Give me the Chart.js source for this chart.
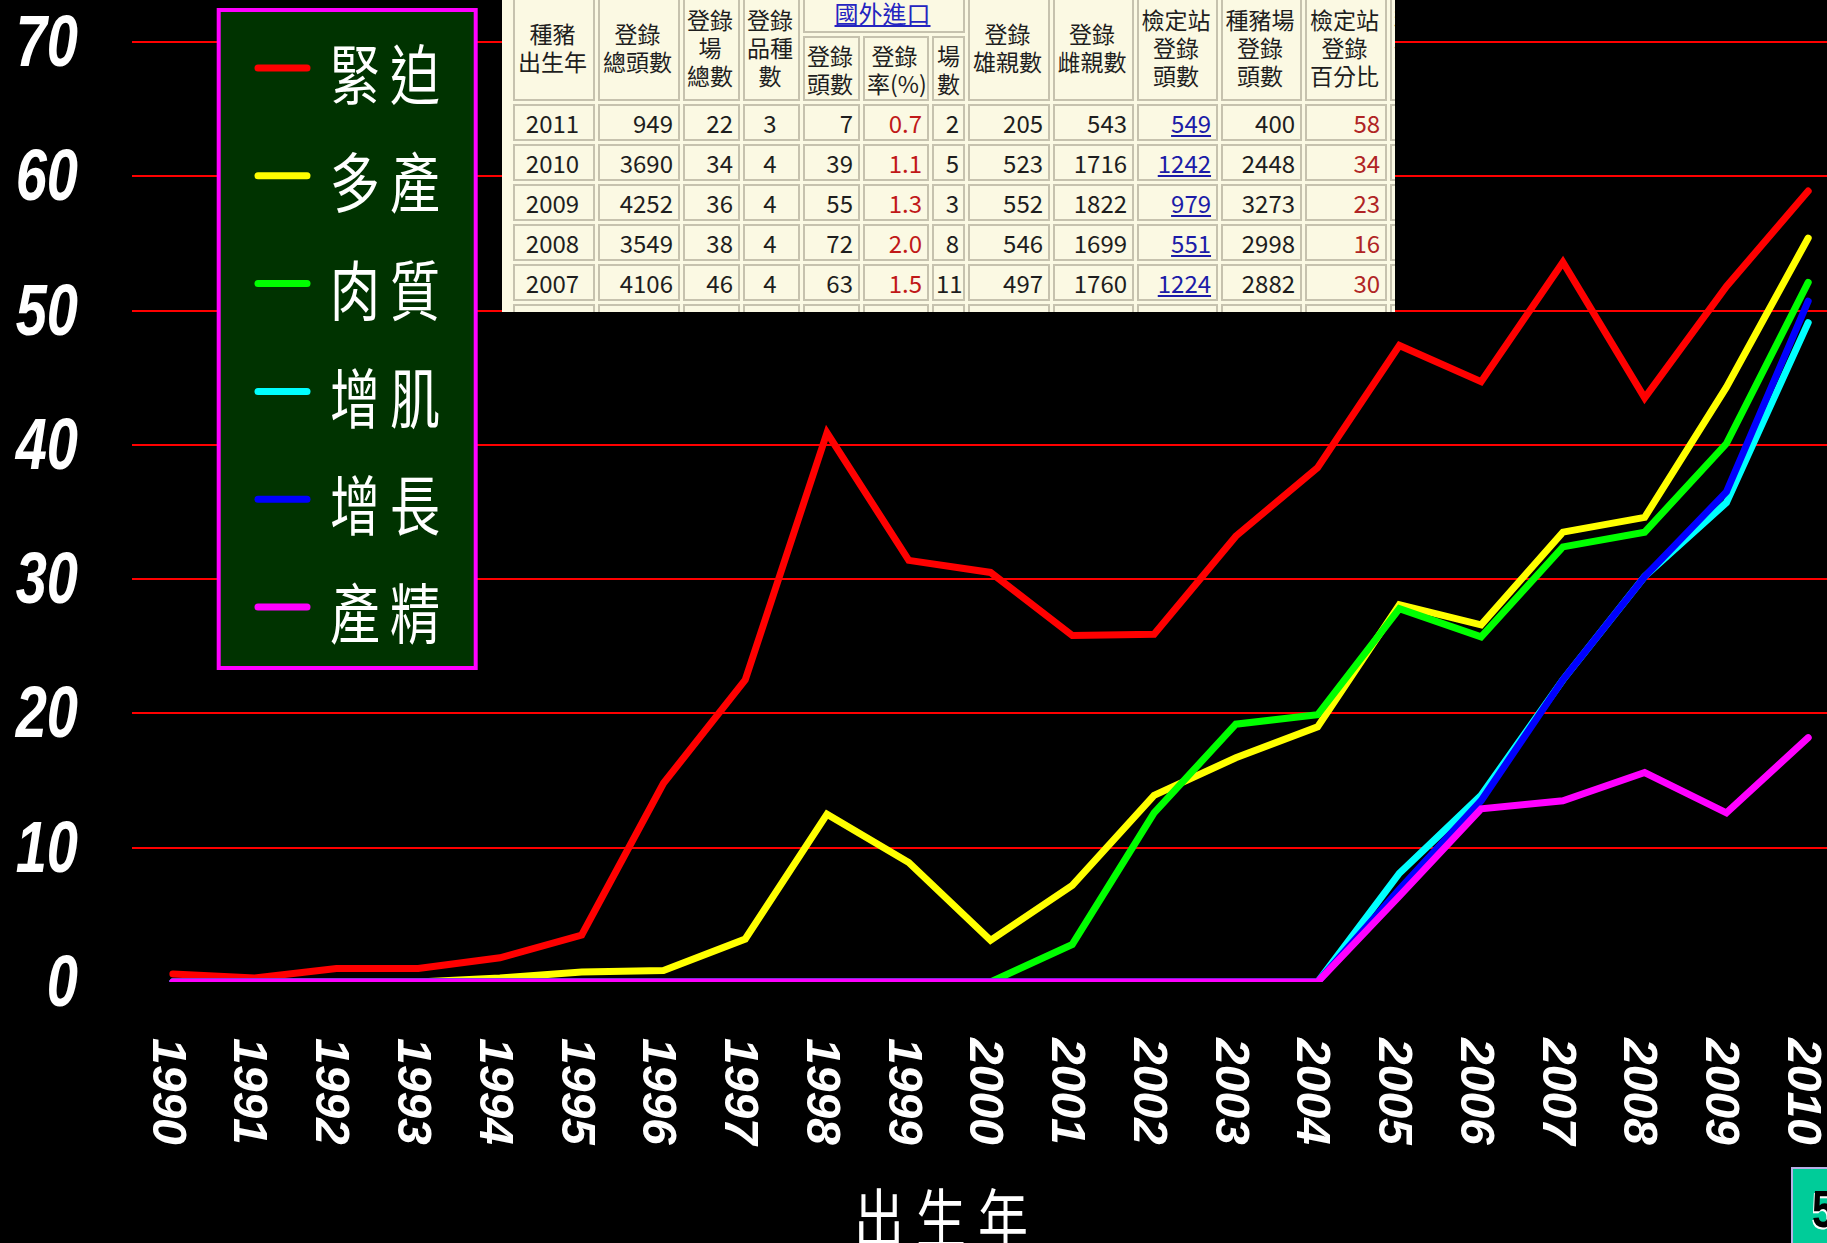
<!DOCTYPE html>
<html>
<head>
<meta charset="utf-8">
<script src="https://cdn.jsdelivr.net/npm/chart.js@4/dist/chart.umd.min.js"></script>
<style>
html,body{margin:0;padding:0;background:#000;overflow:hidden;}
#wrap{position:relative;width:1827px;height:1243px;background:#000;}
#c{position:absolute;left:0;top:0;}
#tbl{position:absolute;left:502px;top:0;width:893px;height:312px;overflow:hidden;background:#FBF9E3;z-index:2;}
#tbl table{position:absolute;left:8px;top:-11px;border-collapse:separate;border-spacing:3px;table-layout:fixed;
  font-family:"Noto Sans CJK TC","Noto Sans CJK SC",sans-serif;color:#1e1e1e;}
#tbl td{border:2px solid #C6C2AE;box-sizing:border-box;padding:0 5px 0 2px;font-size:23px;line-height:28px;
  text-align:center;overflow:hidden;white-space:nowrap;vertical-align:middle;}
#tbl tr.h1 td{height:41px;}
#tbl tr.h2 td{height:65px;}
#tbl tr.d td{height:37px;font-family:"Liberation Sans Narrow","Noto Sans CJK TC",sans-serif;font-size:24px;text-align:right;}
#tbl tr.d td.ctr{text-align:center;}
#tbl .red{color:#C01818;}
#tbl .red2{color:#B02424;}
#tbl .lnk{color:#1C1CA8;text-decoration:underline;}
#tbl .hl{color:#2424C0;text-decoration:underline;font-size:24px;}
</style>
</head>
<body>
<div id="wrap">
  <canvas id="c" width="1827" height="1243"></canvas>
  <div id="tbl"></div>
</div>
<script>
// ---------- chart data ----------
const years = [1990,1991,1992,1993,1994,1995,1996,1997,1998,1999,2000,2001,2002,2003,2004,2005,2006,2007,2008,2009,2010];
const yTicks = [0,10,20,30,40,50,60,70];
const seriesNames = ['緊迫','多產','肉質','增肌','增長','產精'];
const seriesColors = ['#FF0000','#FFFF00','#00FF00','#00FFFF','#0000FF','#FF00FF'];
const stressVals   = [0.6,0.3,1.0,1.0,1.8,3.5,14.8,22.5,40.9,31.4,30.5,25.8,25.9,33.2,38.3,47.4,44.7,53.6,43.5,51.8,58.9];
const prolificVals = [0,0,0,0,0.3,0.75,0.85,3.2,12.5,8.9,3.1,7.2,13.9,16.7,19.0,28.1,26.6,33.5,34.6,44.3,55.4];
const meatVals     = [0,0,0,0,0,0,0,0,0,0,0,2.8,12.6,19.2,19.9,27.8,25.7,32.4,33.5,40.1,52.1];
const muscleVals   = [0,0,0,0,0,0,0,0,0,0,0,0,0,0,0,8.1,13.9,22.5,30.2,35.7,49.1];
const growthVals   = [0,0,0,0,0,0,0,0,0,0,0,0,0,0,0,6.9,13.5,22.5,30.2,36.5,50.7];
const spermVals    = [0,0,0,0,0,0,0,0,0,0,0,0,0,0,0,6.4,12.9,13.5,15.6,12.6,18.2];
const xTitle = '出生年';
const pageNo = '5';

// ---------- table (inset screenshot) data ----------
const tblYears      = [2011,2010,2009,2008,2007];
const tblTotal      = [949,3690,4252,3549,4106];
const tblFarms      = [22,34,36,38,46];
const tblBreeds     = [3,4,4,4,4];
const tblImpHead    = [7,39,55,72,63];
const tblImpRate    = ['0.7','1.1','1.3','2.0','1.5'];
const tblImpFarms   = [2,5,3,8,11];
const tblSires      = [205,523,552,546,497];
const tblDams       = [543,1716,1822,1699,1760];
const tblStation    = [549,1242,979,551,1224];
const tblFarmReg    = [400,2448,3273,2998,2882];
const tblStationPct = [58,34,23,16,30];
const colWidths = [82,82,57,57,57,66,33,82,81,81,81,82,80];

// build table
(function(){
  let h = '<table style="width:' + (colWidths.reduce((a,b)=>a+b,0) + 3*(colWidths.length+1)) + 'px"><colgroup>';
  colWidths.forEach(w => h += '<col style="width:' + w + 'px">');
  h += '</colgroup>';
  h += '<tr class="h1">' +
    '<td rowspan="2">種豬<br>出生年</td>' +
    '<td rowspan="2">登錄<br>總頭數</td>' +
    '<td rowspan="2">登錄<br>場<br>總數</td>' +
    '<td rowspan="2">登錄<br>品種<br>數</td>' +
    '<td colspan="3"><span class="hl">國外進口</span></td>' +
    '<td rowspan="2">登錄<br>雄親數</td>' +
    '<td rowspan="2">登錄<br>雌親數</td>' +
    '<td rowspan="2">檢定站<br>登錄<br>頭數</td>' +
    '<td rowspan="2">種豬場<br>登錄<br>頭數</td>' +
    '<td rowspan="2">檢定站<br>登錄<br>百分比</td>' +
    '<td rowspan="2" style="text-align:left">種豬場<br>登錄<br>百分比</td></tr>';
  h += '<tr class="h2"><td>登錄<br>頭數</td><td>登錄<br>率(%)</td><td style="padding:0">場<br>數</td></tr>';
  for (let i = 0; i < tblYears.length; i++) {
    h += '<tr class="d">' +
      '<td class="ctr">' + tblYears[i] + '</td>' +
      '<td>' + tblTotal[i] + '</td>' +
      '<td>' + tblFarms[i] + '</td>' +
      '<td class="ctr">' + tblBreeds[i] + '</td>' +
      '<td>' + tblImpHead[i] + '</td>' +
      '<td class="red">' + tblImpRate[i] + '</td>' +
      '<td style="padding-right:4px">' + tblImpFarms[i] + '</td>' +
      '<td>' + tblSires[i] + '</td>' +
      '<td>' + tblDams[i] + '</td>' +
      '<td><span class="lnk">' + tblStation[i] + '</span></td>' +
      '<td>' + tblFarmReg[i] + '</td>' +
      '<td class="red2">' + tblStationPct[i] + '</td>' +
      '<td></td></tr>';
  }
  h += '<tr class="d">' + colWidths.map(()=>'<td></td>').join('') + '</tr>';
  h += '</table>';
  document.getElementById('tbl').innerHTML = h;
})();

const seriesValues = [stressVals, prolificVals, meatVals, muscleVals, growthVals, spermVals];

// ---------- decorations drawn from scales / datasets ----------
const decor = {
  id: 'decor',
  afterDraw(chart) {
    const ctx = chart.ctx;
    const xs = chart.scales.x, ys = chart.scales.y;
    ctx.save();
    ctx.fillStyle = '#FFFFFF';

    // y tick labels (bold italic, tall)
    const yFont = 56, yScaleY = 1.3;
    ctx.font = 'italic bold ' + yFont + 'px "Liberation Sans", Arial, sans-serif';
    ctx.textAlign = 'right';
    ctx.textBaseline = 'alphabetic';
    ys.ticks.forEach(t => {
      const py = ys.getPixelForValue(t.value) - 2;
      ctx.save();
      ctx.translate(78, py);
      ctx.scale(1, yScaleY);
      ctx.fillText(String(t.value), 0, 0.358 * yFont);
      ctx.restore();
    });

    // x tick labels, rotated clockwise
    const xFont = 48;
    ctx.font = 'italic bold ' + xFont + 'px "Liberation Sans", Arial, sans-serif';
    ctx.textAlign = 'left';
    xs.ticks.forEach(t => {
      const px = xs.getPixelForValue(t.value) - 3;
      ctx.save();
      ctx.translate(px, 1038);
      ctx.rotate(Math.PI / 2);
      ctx.fillText(String(t.value), 0, 0.358 * xFont);
      ctx.restore();
    });

    // axis title
    const tFont = 50;
    ctx.font = tFont + 'px "Noto Sans CJK TC", "Noto Sans CJK SC", sans-serif';
    ctx.textAlign = 'left';
    [...xTitle].forEach((ch, i) => {
      ctx.save();
      ctx.translate(854 + i * 62, 1218);
      ctx.scale(1, 1.3);
      ctx.fillText(ch, 0, 0.38 * tFont);
      ctx.restore();
    });

    // legend box
    ctx.fillStyle = '#003300';
    ctx.fillRect(218, 10, 258, 658);
    ctx.strokeStyle = '#FF00FF';
    ctx.lineWidth = 4;
    ctx.strokeRect(218.7, 10, 257, 658);
    const lFont = 50;
    chart.data.datasets.forEach((ds, i) => {
      const cy = 68 + i * 107.8;
      ctx.strokeStyle = ds.borderColor;
      ctx.lineWidth = 7;
      ctx.lineCap = 'round';
      ctx.beginPath();
      ctx.moveTo(258, cy);
      ctx.lineTo(307, cy);
      ctx.stroke();
      ctx.fillStyle = '#FFFFFF';
      ctx.font = lFont + 'px "Noto Sans CJK TC", "Noto Sans CJK SC", sans-serif';
      [...ds.label].forEach((ch, k) => {
        ctx.save();
        ctx.translate(330 + k * 60, cy + 6.5);
        ctx.scale(1, 1.3);
        ctx.fillText(ch, 0, 0.38 * lFont);
        ctx.restore();
      });
    });

    // page number box
    ctx.fillStyle = '#00CC99';
    ctx.fillRect(1791, 1167, 40, 80);
    ctx.strokeStyle = '#B8AEE6';
    ctx.lineWidth = 2;
    ctx.strokeRect(1792, 1168, 40, 80);
    ctx.font = 'bold 40px "Liberation Sans", Arial, sans-serif';
    ctx.save();
    ctx.translate(1812, 1227);
    ctx.scale(1, 1.28);
    ctx.fillStyle = '#FFFFFF';
    ctx.fillText(pageNo, -1, 1.5);
    ctx.fillStyle = '#000000';
    ctx.fillText(pageNo, 0, 0);
    ctx.restore();

    ctx.restore();
  }
};

new Chart(document.getElementById('c'), {
  type: 'line',
  data: {
    datasets: seriesNames.map((name, i) => ({
      label: name,
      data: years.map((yr, j) => ({ x: yr, y: seriesValues[i][j] })),
      borderColor: seriesColors[i],
      backgroundColor: seriesColors[i],
      borderWidth: 7,
      pointRadius: 0,
      pointHoverRadius: 0,
      tension: 0,
      fill: false,
      borderJoinStyle: 'miter',
      borderCapStyle: 'round',
      order: seriesNames.length - i
    }))
  },
  options: {
    responsive: false,
    animation: false,
    devicePixelRatio: 1,
    layout: { padding: { left: 132, right: 0, top: 42, bottom: 261 } },
    plugins: { legend: { display: false }, tooltip: { enabled: false }, title: { display: false } },
    scales: {
      x: {
        type: 'linear', min: 1989.5, max: 2010.23,
        afterBuildTicks: s => { s.ticks = years.map(v => ({ value: v })); },
        ticks: { display: false },
        grid: { display: false, drawTicks: false },
        border: { display: false }
      },
      y: {
        type: 'linear', min: 0, max: 70,
        afterBuildTicks: s => { s.ticks = yTicks.map(v => ({ value: v })); },
        ticks: { display: false },
        grid: {
          drawTicks: false,
          lineWidth: 2,
          color: c => (c.tick && c.tick.value === 0) ? 'rgba(0,0,0,0)' : '#FF0000'
        },
        border: { display: false }
      }
    }
  },
  plugins: [decor]
});
</script>
</body>
</html>
